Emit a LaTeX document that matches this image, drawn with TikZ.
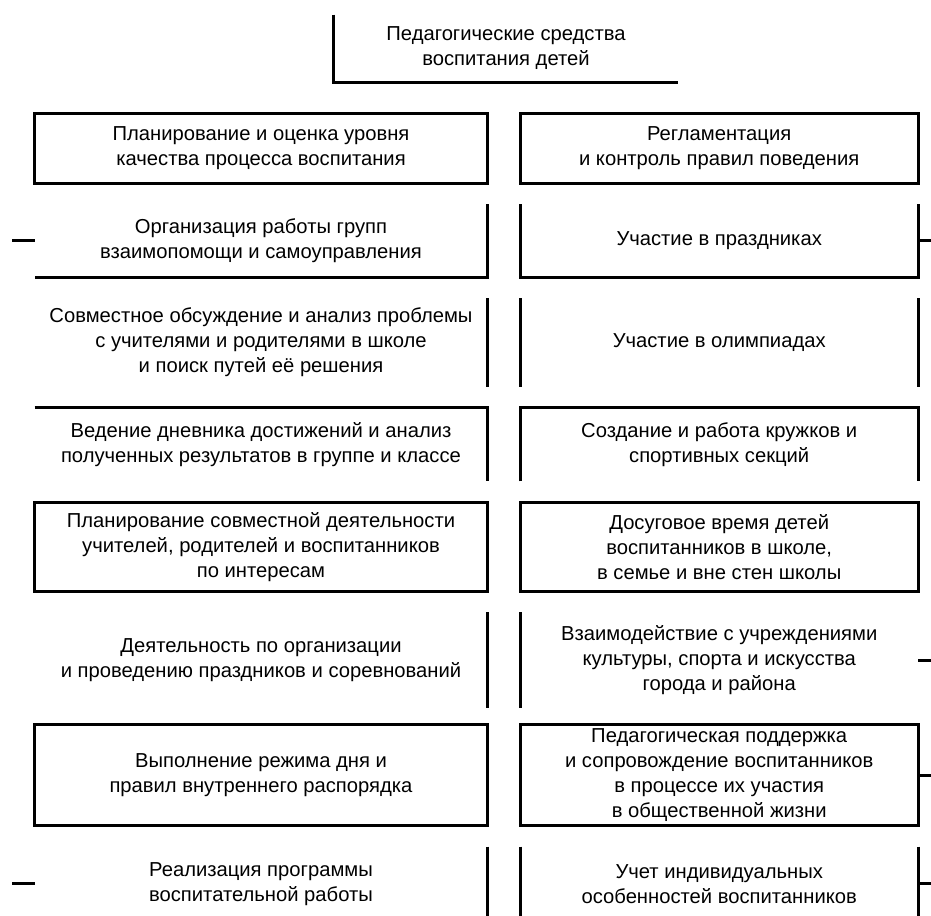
\documentclass[tikz,border=0pt]{standalone}
\usepackage{fontspec}
\setmainfont{Liberation Sans}
\usetikzlibrary{positioning}

\begin{document}
\begin{tikzpicture}[
    node distance=0.42cm,
    every node/.style={align=center, inner sep=0pt, font=\fontsize{11.5}{14.2}\selectfont},
    lcell/.style={minimum width=9.04cm},
    rcell/.style={minimum width=7.94cm},
    frame/.style={line width=1.7pt}
]
\useasboundingbox (0,0) rectangle (18.62,-18.3);

\node (head) [minimum width=6.88cm, minimum height=1.34cm] at (10.12,-0.97) {Педагогические средства\\воспитания детей};

% left column
\node (l1) [lcell, minimum height=1.38cm] at (5.22,-2.97) {Планирование и оценка уровня\\качества процесса воспитания};
\node (l2) [lcell, minimum height=1.44cm, below=of l1] {Организация работы групп\\взаимопомощи и самоуправления};
\node (l3) [lcell, minimum height=1.76cm, below=of l2] {Совместное обсуждение и анализ проблемы\\с учителями и родителями в школе\\и поиск путей её решения};
\node (l4) [lcell, minimum height=1.46cm, below=of l3] {Ведение дневника достижений и анализ\\полученных результатов в группе и классе};
\node (l5) [lcell, minimum height=1.76cm, below=of l4] {Планирование совместной деятельности\\учителей, родителей и воспитанников\\по интересам};
\node (l6) [lcell, minimum height=1.9cm, below=of l5] {Деятельность по организации\\и проведению праздников и соревнований};
\node (l7) [lcell, minimum height=2.0cm, below=0.34cm of l6] {Выполнение режима дня и\\правил внутреннего распорядка};
\node (l8) [lcell, minimum height=1.48cm, below=of l7] {Реализация программы\\воспитательной работы};

% right column
\node (r1) [rcell, minimum height=1.38cm, right=0.66cm of l1] {Регламентация\\и контроль правил поведения};
\node (r2) [rcell, minimum height=1.44cm, right=0.66cm of l2] {Участие в праздниках};
\node (r3) [rcell, minimum height=1.76cm, right=0.66cm of l3] {Участие в олимпиадах};
\node (r4) [rcell, minimum height=1.46cm, right=0.66cm of l4] {Создание и работа кружков и\\спортивных секций};
\node (r5) [rcell, minimum height=1.76cm, right=0.66cm of l5] {Досуговое время детей\\воспитанников в школе,\\в семье и вне стен школы};
\node (r6) [rcell, minimum height=1.9cm, right=0.66cm of l6] {Взаимодействие с учреждениями\\культуры, спорта и искусства\\города и района};
\node (r7) [rcell, minimum height=2.0cm, right=0.66cm of l7] {Педагогическая поддержка\\и сопровождение воспитанников\\в процессе их участия\\в общественной жизни};
\node (r8) [rcell, minimum height=1.48cm, right=0.66cm of l8] {Учет индивидуальных\\особенностей воспитанников};

\coordinate [left=0.46cm of l8.west] (l8tick);
\coordinate [left=0.46cm of l2.west] (l2tick);
\coordinate [right=0.3cm of r2.east] (r2tick);
\coordinate [right=0.3cm of r6.east] (r6tick);
\coordinate [right=0.3cm of r7.east] (r7tick);
\coordinate [right=0.3cm of r8.east] (r8tick);

% frames
\draw[frame] (head.north west) -- (head.south west) -- (head.south east);
\draw[frame] (l1.north west) rectangle (l1.south east);
\draw[frame] (r1.north west) rectangle (r1.south east);
\draw[frame] (l2.north east) -- (l2.south east) -- (l2.south west);
\draw[frame] (r2.north west) -- (r2.south west) -- (r2.south east) -- (r2.north east);
\draw[frame] (l3.north east) -- (l3.south east);
\draw[frame] (r3.north west) -- (r3.south west);
\draw[frame] (r3.north east) -- (r3.south east);
\draw[frame] (l4.north west) -- (l4.north east) -- (l4.south east);
\draw[frame] (r4.south west) -- (r4.north west) -- (r4.north east) -- (r4.south east);
\draw[frame] (l5.north west) rectangle (l5.south east);
\draw[frame] (r5.north west) rectangle (r5.south east);
\draw[frame] (l6.north east) -- (l6.south east);
\draw[frame] (r6.north west) -- (r6.south west);
\draw[frame] (l7.north west) rectangle (l7.south east);
\draw[frame] (r7.north west) rectangle (r7.south east);
\draw[frame] (l8.north east) -- (l8.south east);
\draw[frame] (r8.north west) -- (r8.south west);
\draw[frame] (r8.north east) -- (r8.south east);

% ticks
\draw[frame] (l2.west) -- (l2tick);
\draw[frame] (l8.west) -- (l8tick);
\draw[frame] (r2.east) -- (r2tick);
\draw[frame] (r6.east) -- (r6tick);
\draw[frame] (r7.east) -- (r7tick);
\draw[frame] (r8.east) -- (r8tick);

\end{tikzpicture}
\end{document}
